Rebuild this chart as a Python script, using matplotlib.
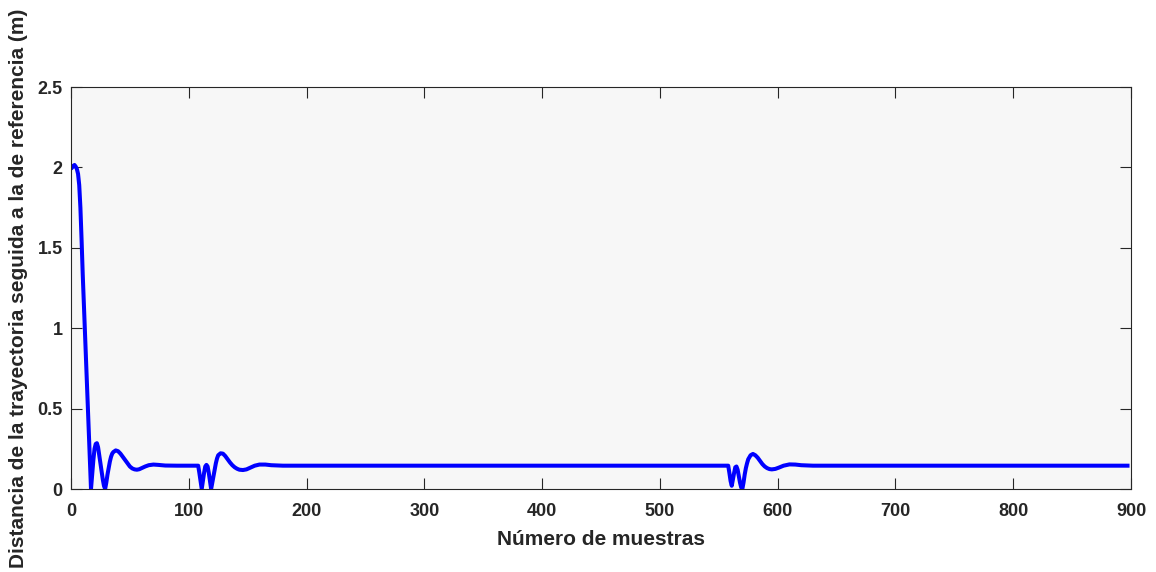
import numpy as np
import matplotlib
matplotlib.use("Agg")
import matplotlib.pyplot as plt

plt.rcParams['font.family'] = ['Liberation Sans', 'DejaVu Sans']
plt.rcParams['font.weight'] = 'bold'

# distancia entre la trayectoria seguida y la de referencia
muestras = [1, 2, 3, 4, 5, 6, 7, 8, 9, 10, 11, 12, 13, 14, 15, 16, 17,
            18, 19, 20, 21, 22, 23, 24, 25, 26, 27, 28, 29,
            30, 31, 32, 33, 34, 35, 36, 38, 40, 42, 44, 46, 48, 50, 52, 54,
            56, 58, 60, 63, 66, 70, 74, 80, 90, 100, 108,
            109, 110, 111, 112, 113, 114, 115, 116, 117, 118, 119,
            120, 121, 122, 123, 124, 125, 127, 129, 131, 133, 135, 137, 139,
            141, 143, 146, 149, 152, 156, 160, 165, 170, 180, 200,
            300, 400, 500, 558,
            559, 560, 561, 562, 563, 564, 565, 566, 567, 568, 569, 570,
            571, 572, 573, 574, 575, 577, 579, 581, 583, 585, 587, 589,
            591, 593, 595, 598, 601, 605, 610, 615, 620, 630, 700, 800, 897]
distancia = [2.00, 2.01, 2.015, 2.005, 1.99, 1.96, 1.89, 1.75, 1.55, 1.33, 1.14, 0.96, 0.76, 0.57, 0.38, 0.19, 0.0,
             0.09, 0.18, 0.25, 0.28, 0.285, 0.26, 0.21, 0.16, 0.11, 0.06, 0.02, 0.0,
             0.04, 0.09, 0.13, 0.17, 0.20, 0.22, 0.23, 0.24, 0.235, 0.22, 0.20, 0.18, 0.16, 0.14, 0.128, 0.122,
             0.12, 0.123, 0.13, 0.14, 0.148, 0.152, 0.15, 0.146, 0.145, 0.145, 0.145,
             0.10, 0.05, 0.0, 0.05, 0.10, 0.14, 0.15, 0.14, 0.10, 0.05, 0.0,
             0.04, 0.08, 0.12, 0.16, 0.19, 0.21, 0.222, 0.22, 0.205, 0.185, 0.165, 0.148, 0.135,
             0.126, 0.12, 0.118, 0.122, 0.132, 0.145, 0.152, 0.152, 0.148, 0.145, 0.145,
             0.145, 0.145, 0.145, 0.145,
             0.10, 0.05, 0.02, 0.06, 0.10, 0.135, 0.14, 0.12, 0.08, 0.04, 0.01, 0.0,
             0.04, 0.09, 0.13, 0.16, 0.185, 0.21, 0.218, 0.21, 0.195, 0.175, 0.155, 0.14,
             0.13, 0.124, 0.122, 0.125, 0.133, 0.145, 0.153, 0.152, 0.148, 0.145, 0.145, 0.145, 0.145]

xticks = list(range(0, 901, 100))
yticks = [0, 0.5, 1, 1.5, 2, 2.5]
ytick_labels = ['0', '0.5', '1', '1.5', '2', '2.5']

fig = plt.figure(figsize=(11.56, 5.72), dpi=100)
ax = fig.add_axes([0.0614, 0.1451, 0.9170, 0.7028])
ax.set_facecolor('#f7f7f7')
ax.plot(muestras, distancia, color='#0000ff', lw=2.9, solid_joinstyle='round')

ax.set_xlim(0, 900)
ax.set_ylim(0, 2.5)
ax.set_xticks(xticks)
ax.set_yticks(yticks)
ax.set_xticklabels([str(t) for t in xticks])
ax.set_yticklabels(ytick_labels)
ax.tick_params(direction='in', length=8, width=0.8, color='#262626',
               labelcolor='#262626', top=True, right=True, labelsize=13)
ax.tick_params(axis='x', pad=10)
ax.tick_params(axis='y', pad=6)
for lab in ax.get_xticklabels() + ax.get_yticklabels():
    lab.set_fontweight('bold')
for s in ax.spines.values():
    s.set_linewidth(0.8)
    s.set_color('#262626')

ax.set_xlabel('Número de muestras', fontsize=15, fontweight='bold',
              color='#262626', labelpad=7)
ax.set_ylabel('Distancia de la trayectoria seguida a la de referencia (m)',
              fontsize=15, fontweight='bold', color='#262626', labelpad=7)

fig.savefig('out.png', dpi=100)
